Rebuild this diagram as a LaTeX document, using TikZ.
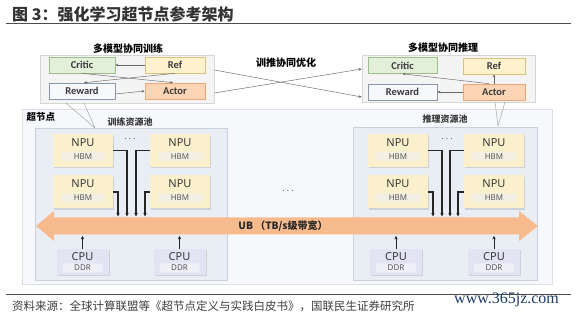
\documentclass[tikz,border=0pt]{standalone}
\usepackage{fontspec}
\newfontfamily\cjk{Noto Sans CJK SC}
\newfontfamily\lab{Carlito}
\newfontfamily\nsans{Noto Sans}
\newfontfamily\wmfont{Liberation Serif}
\usetikzlibrary{arrows.meta,shadows,calc}
\definecolor{txt}{HTML}{3A3A3A}
\definecolor{critf}{HTML}{E2F0D9}\definecolor{critd}{HTML}{9DBF8A}
\definecolor{reff}{HTML}{FFF2CC}\definecolor{refd}{HTML}{D9C27A}
\definecolor{rewf}{HTML}{F6F8FC}\definecolor{rewd}{HTML}{8A96AA}
\definecolor{actf}{HTML}{FBD5B5}\definecolor{actd}{HTML}{EFA875}
\definecolor{grpf}{HTML}{F4F4F4}\definecolor{grpd}{HTML}{D6D6D6}
\definecolor{supf}{HTML}{F6F8FB}\definecolor{supd}{HTML}{DCE0E6}
\definecolor{poolf}{HTML}{E9EDF4}\definecolor{poold}{HTML}{CBD1DB}
\definecolor{npuf}{HTML}{FAF0CB}\definecolor{hbmf}{HTML}{F3EFE3}
\definecolor{cpuf}{HTML}{E3E3F4}\definecolor{ddrf}{HTML}{EFEFF8}
\definecolor{ubf}{HTML}{F7BA8C}
\definecolor{wmc}{HTML}{1F3D6B}
\begin{document}
\begin{tikzpicture}[x=1pt,y=-1pt,
  mbox/.style={draw, line width=0.6pt, minimum height=16pt, inner sep=0pt,
    font=\lab\bfseries\fontsize{10.5}{12}\selectfont, text=txt},
  grp/.style={draw=grpd, fill=grpf, line width=0.6pt, inner sep=0pt},
  glabel/.style={font=\cjk\bfseries\fontsize{10}{12}\selectfont, text=black, inner sep=0pt},
  plabel/.style={font=\cjk\bfseries\fontsize{9}{11}\selectfont, text=txt, inner sep=0pt},
  sarr/.style={draw=gray!80!black, line width=0.45pt, -{Stealth[length=3pt,width=2.6pt]}},
  barr/.style={draw=black!85, line width=1.1pt, -{Stealth[length=3.6pt,width=3.4pt]}},
  npubox/.style={fill=npuf, minimum width=60pt, minimum height=33pt, inner sep=0pt,
    drop shadow={opacity=0.25, shadow xshift=1.2pt, shadow yshift=-1.2pt}},
  cpubox/.style={fill=cpuf, minimum width=52pt, minimum height=26pt, inner sep=0pt,
    drop shadow={opacity=0.25, shadow xshift=1.2pt, shadow yshift=-1.2pt}},
  inbox/.style={fill=#1, minimum width=44pt, minimum height=9pt, inner sep=0pt, rounded corners=1pt,
    font=\nsans\fontsize{8}{9}\selectfont, text=txt!85},
  big/.style={inner sep=0pt, font=\nsans\fontsize{11}{12}\selectfont, text=txt}
]
\useasboundingbox (0,0) rectangle (579,315);
\fill[white] (0,0) rectangle (579,315);

% title
\node[anchor=west, inner sep=0pt, font=\cjk\bfseries\fontsize{16}{18}\selectfont, text=black!80] (title) at (12,14) {图 3：强化学习超节点参考架构};
\draw[black!70, line width=0.6pt] (6,23) -- (571,23);

% supernode and pools
\node[draw=supd, fill=supf, line width=0.6pt, minimum width=530pt, minimum height=175pt, inner sep=0pt] (sup) at (287,196.5) {};
\node[font=\cjk\bfseries\fontsize{9.5}{11}\selectfont, text=black, inner sep=0pt] (suplab) at (41,117) {超节点};
\node[draw=poold, fill=poolf, line width=0.6pt, minimum width=192pt, minimum height=152pt, inner sep=0pt] (p1) at (131,204) {};
\node[draw=poold, fill=poolf, line width=0.6pt, minimum width=184pt, minimum height=153pt, inner sep=0pt] (p2) at (445,203.5) {};
\node[plabel] (p1lab) at (130,122) {训练资源池};
\node[plabel] (p2lab) at (445,119.5) {推理资源池};

% group boxes
\node[grp, minimum width=174pt, minimum height=48pt] (g1) at (127,79) {};
\node[grp, minimum width=173pt, minimum height=47pt] (g2) at (448.5,78.5) {};
\node[glabel] (g1lab) at (128,48.5) {多模型协同训练};
\node[glabel] (g2lab) at (443,48) {多模型协同推理};

% callout tails
\coordinate (tl1) at (66,103); \coordinate (tl2) at (84,103); \coordinate (tla) at (95,128);
\draw[gray!70, line width=0.5pt] (tl1) -- (tla) -- (tl2);
\coordinate (tr1) at (495,102); \coordinate (tr2) at (505,102); \coordinate (tra) at (498,126);
\draw[gray!70, line width=0.5pt] (tr1) -- (tra) -- (tr2);

% left group models
\node[mbox, draw=critd, fill=critf, minimum width=66pt] (c1) at (82,65) {Critic};
\node[mbox, draw=refd, fill=reff, minimum width=60pt] (r1) at (175,65) {Ref};
\node[mbox, draw=rewd, fill=rewf, minimum width=66pt] (w1) at (82,91) {Reward};
\node[mbox, draw=actd, fill=actf, minimum width=60pt] (a1) at (175,91) {Actor};
\draw[sarr] (r1) -- (c1);
\draw[sarr] (c1.south) -- ([xshift=-2pt]a1.north);
\draw[sarr] (r1.south) -- ([xshift=2pt]w1.north);
\draw[sarr] ([yshift=-3pt]w1.east) -- (a1.west);

% right group models
\node[mbox, draw=critd, fill=critf, minimum width=69pt] (c2) at (402.5,65.5) {Critic};
\node[mbox, draw=refd, fill=reff, minimum width=62pt] (r2) at (494,66) {Ref};
\node[mbox, draw=rewd, fill=rewf, minimum width=69pt] (w2) at (402.5,92) {Reward};
\node[mbox, draw=actd, fill=actf, minimum width=62pt] (a2) at (494,92) {Actor};
\draw[sarr] (a2.north) -- (r2.south);
\draw[sarr] (a2.west) -- (w2.east);
\draw[sarr] ([xshift=-5pt]a2.north) -- (c2.south);

% cross arrows
\node[glabel] (xlab) at (286,63) {训推协同优化};
\draw[sarr] ([yshift=9pt]g1.east) -- ([yshift=-18.5pt]g2.west);
\draw[sarr] ([yshift=-14pt]g1.east) -- ([yshift=9.5pt]g2.west);

% UB arrow
\fill[ubf] (36,226) -- (54,211) -- (54,217.5) -- (519,217.5) -- (519,211) -- (538,226)
  -- (519,241) -- (519,234.5) -- (54,234.5) -- (54,241) -- cycle;
\node[font=\cjk\bfseries\fontsize{10}{12}\selectfont, text=black!85, inner sep=0pt] (ub) at (283,226.5) {UB （TB/s级带宽）};

% NPU boxes
\newcommand\mynpu[2]{%
  \node[npubox] (#1) at (#2) {};
  \node[inbox=hbmf] (#1h) at ([yshift=-6pt]#1.center) {HBM};
  \node[big] (#1t) at ([yshift=8pt]#1.center) {NPU};}
\mynpu{na}{83,150.5}
\mynpu{nb}{180,150.5}
\mynpu{nc}{83,192}
\mynpu{nd}{180,192}
\mynpu{ne}{398,150.5}
\mynpu{nf}{494,150.5}
\mynpu{ng}{398,192}
\mynpu{nh}{494,192}
\node[inner sep=0pt, text=txt] (d1) at (130,139) {$\cdots$};
\node[inner sep=0pt, text=txt] (d2) at (447,139) {$\cdots$};
\node[inner sep=0pt, text=txt] (d3) at (288,191) {$\cdots$};

% NPU connectors
\coordinate (ka) at (127,216.5); \coordinate (kb) at (136,216.5);
\coordinate (kc) at (118,216.5); \coordinate (kd) at (145,216.5);
\draw[barr] (na.east) -| (ka);
\draw[barr] (nb.west) -| (kb);
\draw[barr] (nc.east) -| (kc);
\draw[barr] (nd.west) -| (kd);
\coordinate (ke) at (442,216.5); \coordinate (kf) at (450,216.5);
\coordinate (kg) at (433,216.5); \coordinate (kh) at (458,216.5);
\draw[barr] (ne.east) -| (ke);
\draw[barr] (nf.west) -| (kf);
\draw[barr] (ng.east) -| (kg);
\draw[barr] (nh.west) -| (kh);

% CPU boxes
\newcommand\mycpu[2]{%
  \node[cpubox] (#1) at (#2) {};
  \node[inbox=ddrf, minimum width=40pt] (#1h) at ([yshift=-6pt]#1.center) {DDR};
  \node[big] (#1t) at ([yshift=5pt]#1.center) {CPU};}
\mycpu{ca}{82.5,262}
\mycpu{cb}{179.5,262}
\mycpu{cc}{396,262}
\mycpu{cd}{494,262}
\foreach \c in {ca,cb,cc,cd}{
  \coordinate (\c u) at ($(\c.north)+(0,-13)$);
  \draw[barr, line width=0.9pt] (\c.north) -- (\c u);
}

% footer
\draw[black!70, line width=0.6pt] (6,294.5) -- (571,294.5);
\node[anchor=west, inner sep=0pt, font=\cjk\fontsize{11.5}{13}\selectfont, text=black!75] (src) at (12,306.5) {资料来源：全球计算联盟等《超节点定义与实践白皮书》，国联民生证券研究所};
\node[anchor=west, inner sep=0pt, font=\wmfont\fontsize{16}{18}\selectfont, text=wmc] (wm) at (454,300) {www.365jz.com};
\end{tikzpicture}
\end{document}
